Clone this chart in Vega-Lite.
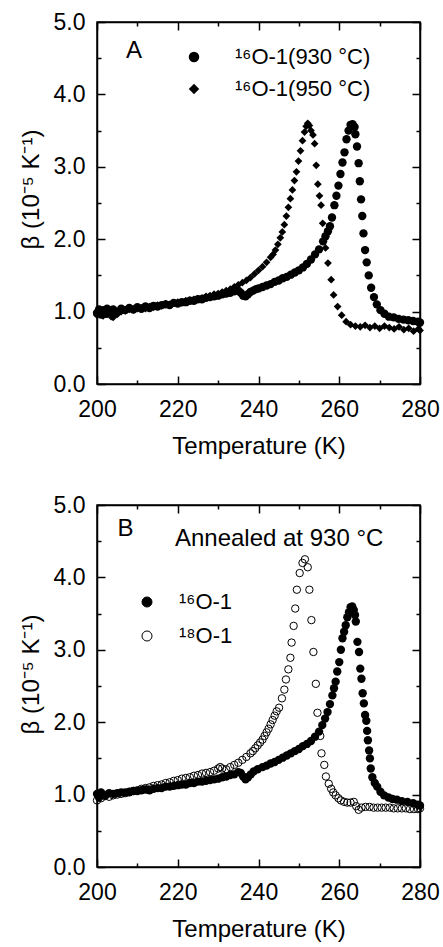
{
  "$schema": "https://vega.github.io/schema/vega-lite/v6.json",
  "background": "white",
  "padding": {"left": 18, "top": 10, "right": 5, "bottom": 5},
  "spacing": 34,
  "resolve": {"legend": {"shape": "independent", "fill": "independent"}},
  "vconcat": [
    {
      "width": 323, "height": 362,
      "layer": [
        {
          "data": {"values": [
      {"T":200,"b":0.98},{"T":200.5,"b":1.03},{"T":201,"b":0.96},{"T":201.5,"b":1.02},{"T":202,"b":0.97},{"T":202.5,"b":1.04},{"T":203,"b":1.01},{"T":203.5,"b":0.98},{"T":204,"b":1.03},{"T":205,"b":1.00},{"T":206,"b":1.04},{"T":207,"b":1.02},{"T":208,"b":1.05},{"T":209,"b":1.03},{"T":210,"b":1.06},{"T":211,"b":1.04},{"T":212,"b":1.07},{"T":213,"b":1.05},{"T":214,"b":1.08},{"T":215,"b":1.07},{"T":216,"b":1.09},{"T":217,"b":1.10},{"T":218,"b":1.09},{"T":219,"b":1.12},{"T":220,"b":1.11},{"T":221,"b":1.13},{"T":222,"b":1.13},{"T":223,"b":1.15},{"T":224,"b":1.15},{"T":225,"b":1.17},{"T":226,"b":1.17},{"T":227,"b":1.19},{"T":228,"b":1.20},{"T":229,"b":1.21},{"T":230,"b":1.22},{"T":231,"b":1.24},{"T":232,"b":1.25},{"T":233,"b":1.26},{"T":234,"b":1.28},{"T":235,"b":1.29},{"T":235.6,"b":1.26},{"T":236.2,"b":1.22},{"T":236.8,"b":1.21},{"T":237.4,"b":1.24},{"T":238,"b":1.27},{"T":238.7,"b":1.29},{"T":239.4,"b":1.31},{"T":240,"b":1.32},{"T":241,"b":1.34},{"T":242,"b":1.36},{"T":243,"b":1.38},{"T":244,"b":1.41},{"T":245,"b":1.43},{"T":246,"b":1.46},{"T":247,"b":1.48},{"T":248,"b":1.51},{"T":249,"b":1.54},{"T":250,"b":1.57},{"T":251,"b":1.61},{"T":252,"b":1.66},{"T":253,"b":1.72},{"T":254,"b":1.79},{"T":255,"b":1.86},{"T":256,"b":1.97},{"T":256.6,"b":2.04},{"T":257.2,"b":2.11},{"T":257.7,"b":2.18},{"T":258.2,"b":2.30},{"T":258.8,"b":2.47},{"T":259.3,"b":2.60},{"T":259.8,"b":2.74},{"T":260.3,"b":2.90},{"T":260.8,"b":3.06},{"T":261.3,"b":3.20},{"T":261.8,"b":3.38},{"T":262.3,"b":3.50},{"T":262.8,"b":3.58},{"T":263.3,"b":3.59},{"T":263.8,"b":3.55},{"T":264.0,"b":3.45},{"T":264.4,"b":3.28},{"T":264.8,"b":3.05},{"T":265.1,"b":2.80},{"T":265.4,"b":2.55},{"T":265.7,"b":2.32},{"T":266.0,"b":2.08},{"T":266.4,"b":1.85},{"T":266.8,"b":1.68},{"T":267.3,"b":1.50},{"T":267.9,"b":1.33},{"T":268.6,"b":1.20},{"T":269.3,"b":1.10},{"T":270.2,"b":1.02},{"T":271.2,"b":0.97},{"T":272.3,"b":0.93},{"T":273.5,"b":0.92},{"T":274.7,"b":0.90},{"T":275.9,"b":0.89},{"T":277.1,"b":0.88},{"T":278.3,"b":0.87},{"T":279.5,"b":0.86},{"T":280,"b":0.85}
          ]},
          "mark": {"type": "point", "filled": true, "size": 70, "color": "black", "opacity": 1},
          "encoding": {
            "x": {"field": "T", "type": "quantitative", "scale": {"domain": [200, 280], "nice": false, "zero": false},
              "axis": {"orient": "bottom", "labelFlush": false, "values": [200,210,220,230,240,250,260,270,280], "labelExpr": "datum.value % 20 === 0 ? datum.label : ''", "tickSize": {"condition": {"test": "datum.value % 20 === 0", "value": -8}, "value": -4}, "labelPadding": 22, "title": "Temperature (K)", "titlePadding": 13}},
            "y": {"field": "b", "type": "quantitative", "scale": {"domain": [0, 5], "nice": false, "zero": false},
              "axis": {"orient": "left", "labelFlush": false, "values": [0,0.5,1,1.5,2,2.5,3,3.5,4,4.5,5], "labelExpr": "datum.value % 1 === 0 ? format(datum.value, '.1f') : ''", "tickSize": {"condition": {"test": "datum.value % 1 === 0", "value": -8}, "value": -4}, "labelPadding": 20, "title": "β (10⁻⁵ K⁻¹)", "titlePadding": 10, "titleY": 167}},
            "shape": {"datum": "¹⁶O-1(930 °C)", "scale": {"domain": ["¹⁶O-1(930 °C)", "¹⁶O-1(950 °C)"], "range": ["circle", "diamond"]},
              "legend": {"orient": "none", "legendX": 86, "legendY": 24, "title": null, "symbolSize": 110, "symbolFillColor": "black", "symbolStrokeColor": "black", "symbolStrokeWidth": 0, "labelFontSize": 22, "labelFont": "Liberation Sans", "labelColor": "black", "labelOffset": 30, "rowPadding": 10, "padding": 0}}
          }
        },
        {
          "data": {"values": [
      {"T":200,"b":0.95},{"T":200.5,"b":0.99},{"T":201,"b":1.01},{"T":201.5,"b":0.94},{"T":202,"b":0.98},{"T":202.5,"b":0.96},{"T":203,"b":0.97},{"T":203.5,"b":0.93},{"T":204,"b":0.92},{"T":205,"b":0.96},{"T":206,"b":1.00},{"T":207,"b":1.01},{"T":208,"b":1.03},{"T":209,"b":1.02},{"T":210,"b":1.04},{"T":211,"b":1.05},{"T":212,"b":1.04},{"T":213,"b":1.07},{"T":214,"b":1.06},{"T":215,"b":1.09},{"T":216,"b":1.08},{"T":217,"b":1.11},{"T":218,"b":1.10},{"T":219,"b":1.12},{"T":220,"b":1.13},{"T":221,"b":1.12},{"T":222,"b":1.15},{"T":223,"b":1.16},{"T":224,"b":1.17},{"T":225,"b":1.18},{"T":226,"b":1.19},{"T":227,"b":1.21},{"T":228,"b":1.22},{"T":229,"b":1.24},{"T":230,"b":1.25},{"T":231,"b":1.27},{"T":232,"b":1.29},{"T":233,"b":1.31},{"T":234,"b":1.34},{"T":235,"b":1.37},{"T":236,"b":1.40},{"T":237,"b":1.43},{"T":238,"b":1.47},{"T":239,"b":1.52},{"T":240,"b":1.57},{"T":241,"b":1.62},{"T":242,"b":1.68},{"T":243,"b":1.75},{"T":243.6,"b":1.79},{"T":244.2,"b":1.85},{"T":244.8,"b":1.93},{"T":245.4,"b":2.02},{"T":245.9,"b":2.10},{"T":246.4,"b":2.20},{"T":246.9,"b":2.32},{"T":247.4,"b":2.44},{"T":247.9,"b":2.56},{"T":248.4,"b":2.68},{"T":248.9,"b":2.81},{"T":249.4,"b":2.93},{"T":249.9,"b":3.08},{"T":250.4,"b":3.22},{"T":250.9,"b":3.36},{"T":251.4,"b":3.48},{"T":251.8,"b":3.56},{"T":252.2,"b":3.60},{"T":252.6,"b":3.57},{"T":253.0,"b":3.50},{"T":253.5,"b":3.44},{"T":253.9,"b":3.32},{"T":254.3,"b":3.02},{"T":254.7,"b":2.76},{"T":255.1,"b":2.60},{"T":255.5,"b":2.47},{"T":255.9,"b":2.22},{"T":256.6,"b":1.88},{"T":257.2,"b":1.67},{"T":258.0,"b":1.44},{"T":258.6,"b":1.23},{"T":259.6,"b":1.07},{"T":260.6,"b":0.95},{"T":261.7,"b":0.86},{"T":262.8,"b":0.82},{"T":264,"b":0.80},{"T":265.2,"b":0.79},{"T":266.4,"b":0.81},{"T":267.6,"b":0.78},{"T":268.8,"b":0.80},{"T":270,"b":0.77},{"T":271.2,"b":0.80},{"T":272.4,"b":0.78},{"T":273.6,"b":0.76},{"T":274.8,"b":0.79},{"T":276,"b":0.75},{"T":277.2,"b":0.77},{"T":278.4,"b":0.73},{"T":279.6,"b":0.76},{"T":280,"b":0.74}
          ]},
          "mark": {"type": "point", "filled": true, "size": 60, "color": "black", "opacity": 1},
          "encoding": {
            "x": {"field": "T", "type": "quantitative", "scale": {"domain": [200, 280], "nice": false, "zero": false},
              "axis": {"orient": "top", "labelFlush": false, "values": [200,210,220,230,240,250,260,270,280], "labels": false, "title": null, "tickSize": {"condition": {"test": "datum.value % 20 === 0", "value": -8}, "value": -4}}},
            "y": {"field": "b", "type": "quantitative", "scale": {"domain": [0, 5], "nice": false, "zero": false},
              "axis": {"orient": "right", "values": [0,0.5,1,1.5,2,2.5,3,3.5,4,4.5,5], "labels": false, "title": null, "tickSize": {"condition": {"test": "datum.value % 1 === 0", "value": -8}, "value": -4}}},
            "shape": {"datum": "¹⁶O-1(950 °C)"}
          }
        },
        {
          "data": {"values": [{"T": 207.2, "b": 4.5, "t": "A"}]},
          "mark": {"type": "text", "fontSize": 24, "align": "left", "baseline": "alphabetic", "color": "black"},
          "encoding": {
            "x": {"field": "T", "type": "quantitative", "axis": null},
            "y": {"field": "b", "type": "quantitative", "axis": null},
            "text": {"field": "t"}
          }
        }
      ],
      "resolve": {"axis": {"x": "independent", "y": "independent"}}
    },
    {
      "width": 323, "height": 362,
      "layer": [
        {
          "data": {"values": [
      {"T":200,"b":1.01},{"T":200.5,"b":0.97},{"T":201,"b":1.03},{"T":202,"b":0.99},{"T":203,"b":1.02},{"T":204,"b":1.01},{"T":205,"b":1.02},{"T":206,"b":1.03},{"T":207,"b":1.03},{"T":208,"b":1.04},{"T":209,"b":1.05},{"T":210,"b":1.05},{"T":211,"b":1.06},{"T":212,"b":1.07},{"T":213,"b":1.06},{"T":214,"b":1.08},{"T":215,"b":1.09},{"T":216,"b":1.09},{"T":217,"b":1.11},{"T":218,"b":1.11},{"T":219,"b":1.12},{"T":220,"b":1.13},{"T":221,"b":1.14},{"T":222,"b":1.14},{"T":223,"b":1.16},{"T":224,"b":1.16},{"T":225,"b":1.18},{"T":226,"b":1.18},{"T":227,"b":1.19},{"T":228,"b":1.20},{"T":229,"b":1.21},{"T":230,"b":1.22},{"T":231,"b":1.24},{"T":232,"b":1.25},{"T":233,"b":1.27},{"T":234,"b":1.28},{"T":235,"b":1.31},{"T":235.6,"b":1.30},{"T":236.2,"b":1.25},{"T":236.8,"b":1.21},{"T":237.4,"b":1.24},{"T":238.1,"b":1.28},{"T":238.8,"b":1.32},{"T":239.8,"b":1.35},{"T":241,"b":1.38},{"T":242,"b":1.40},{"T":243,"b":1.43},{"T":244,"b":1.45},{"T":245,"b":1.48},{"T":246,"b":1.51},{"T":247,"b":1.54},{"T":248,"b":1.57},{"T":249,"b":1.60},{"T":250,"b":1.63},{"T":251,"b":1.67},{"T":252,"b":1.70},{"T":253,"b":1.74},{"T":254,"b":1.80},{"T":255,"b":1.87},{"T":255.8,"b":1.96},{"T":256.5,"b":2.05},{"T":257.1,"b":2.14},{"T":257.7,"b":2.25},{"T":258.3,"b":2.37},{"T":258.7,"b":2.47},{"T":259.1,"b":2.56},{"T":259.5,"b":2.70},{"T":260.0,"b":2.83},{"T":260.4,"b":3.00},{"T":260.8,"b":3.16},{"T":261.2,"b":3.25},{"T":261.6,"b":3.34},{"T":262.0,"b":3.45},{"T":262.4,"b":3.52},{"T":262.8,"b":3.59},{"T":263.2,"b":3.60},{"T":263.6,"b":3.55},{"T":263.9,"b":3.48},{"T":264.1,"b":3.39},{"T":264.5,"b":3.11},{"T":264.9,"b":2.97},{"T":265.2,"b":2.74},{"T":265.5,"b":2.60},{"T":265.8,"b":2.40},{"T":266.1,"b":2.26},{"T":266.4,"b":2.10},{"T":266.7,"b":2.02},{"T":266.9,"b":1.88},{"T":267.1,"b":1.75},{"T":267.4,"b":1.61},{"T":267.6,"b":1.50},{"T":267.8,"b":1.36},{"T":268.2,"b":1.24},{"T":268.8,"b":1.16},{"T":269.4,"b":1.11},{"T":270.2,"b":1.04},{"T":271.1,"b":0.99},{"T":272.2,"b":0.96},{"T":273.2,"b":0.94},{"T":274.3,"b":0.93},{"T":275.5,"b":0.91},{"T":276.9,"b":0.90},{"T":278.3,"b":0.88},{"T":279.5,"b":0.86},{"T":280,"b":0.85}
          ]},
          "mark": {"type": "point", "filled": true, "size": 70, "shape": "circle", "opacity": 1, "strokeWidth": 0},
          "encoding": {
            "x": {"field": "T", "type": "quantitative", "scale": {"domain": [200, 280], "nice": false, "zero": false},
              "axis": {"orient": "bottom", "labelFlush": false, "values": [200,210,220,230,240,250,260,270,280], "labelExpr": "datum.value % 20 === 0 ? datum.label : ''", "tickSize": {"condition": {"test": "datum.value % 20 === 0", "value": -8}, "value": -4}, "labelPadding": 22, "title": "Temperature (K)", "titlePadding": 13}},
            "y": {"field": "b", "type": "quantitative", "scale": {"domain": [0, 5], "nice": false, "zero": false},
              "axis": {"orient": "left", "labelFlush": false, "values": [0,0.5,1,1.5,2,2.5,3,3.5,4,4.5,5], "labelExpr": "datum.value % 1 === 0 ? format(datum.value, '.1f') : ''", "tickSize": {"condition": {"test": "datum.value % 1 === 0", "value": -8}, "value": -4}, "labelPadding": 20, "title": "β (10⁻⁵ K⁻¹)", "titlePadding": 10, "titleY": 169}},
            "fill": {"datum": "¹⁶O-1", "scale": {"domain": ["¹⁶O-1", "¹⁸O-1"], "range": ["black", "transparent"]},
              "legend": {"orient": "none", "legendX": 39, "legendY": 86, "title": null, "symbolSize": 100, "symbolType": "circle", "symbolStrokeColor": "black", "symbolStrokeWidth": 1, "labelFontSize": 22, "labelFont": "Liberation Sans", "labelColor": "black", "labelOffset": 21, "rowPadding": 12, "padding": 0}}
          }
        },
        {
          "data": {"values": [
      {"T":200,"b":0.92},{"T":200.5,"b":0.96},{"T":201,"b":0.95},{"T":202,"b":0.98},{"T":203,"b":0.97},{"T":204,"b":0.99},{"T":205,"b":1.00},{"T":206,"b":1.01},{"T":207,"b":1.02},{"T":208,"b":1.03},{"T":209,"b":1.05},{"T":210,"b":1.06},{"T":211,"b":1.08},{"T":212,"b":1.09},{"T":213,"b":1.10},{"T":214,"b":1.12},{"T":215,"b":1.13},{"T":216,"b":1.14},{"T":217,"b":1.16},{"T":218,"b":1.17},{"T":219,"b":1.19},{"T":220,"b":1.20},{"T":221,"b":1.22},{"T":222,"b":1.23},{"T":223,"b":1.24},{"T":224,"b":1.26},{"T":225,"b":1.27},{"T":226,"b":1.29},{"T":227,"b":1.30},{"T":228,"b":1.31},{"T":229,"b":1.33},{"T":230,"b":1.36},{"T":230.5,"b":1.38},{"T":231,"b":1.36},{"T":232,"b":1.35},{"T":233,"b":1.38},{"T":234,"b":1.41},{"T":235,"b":1.44},{"T":236,"b":1.48},{"T":237,"b":1.52},{"T":238,"b":1.57},{"T":238.6,"b":1.60},{"T":239.2,"b":1.64},{"T":239.8,"b":1.68},{"T":240.4,"b":1.72},{"T":241,"b":1.76},{"T":241.5,"b":1.81},{"T":242,"b":1.86},{"T":242.5,"b":1.91},{"T":243,"b":1.97},{"T":243.5,"b":2.03},{"T":244,"b":2.09},{"T":244.5,"b":2.15},{"T":245.1,"b":2.20},{"T":245.8,"b":2.33},{"T":246.4,"b":2.45},{"T":246.8,"b":2.59},{"T":247.4,"b":2.73},{"T":247.9,"b":2.89},{"T":248.2,"b":3.10},{"T":248.7,"b":3.33},{"T":249.1,"b":3.57},{"T":249.5,"b":3.83},{"T":250.2,"b":4.06},{"T":250.9,"b":4.20},{"T":251.5,"b":4.25},{"T":252.2,"b":4.14},{"T":252.6,"b":3.83},{"T":253.1,"b":3.41},{"T":253.6,"b":2.97},{"T":254.2,"b":2.53},{"T":254.6,"b":2.13},{"T":255.3,"b":1.81},{"T":255.6,"b":1.57},{"T":256.3,"b":1.41},{"T":256.7,"b":1.25},{"T":257.4,"b":1.15},{"T":258.0,"b":1.08},{"T":258.5,"b":1.03},{"T":259.1,"b":0.99},{"T":259.8,"b":0.95},{"T":260.4,"b":0.92},{"T":261.2,"b":0.90},{"T":262.0,"b":0.89},{"T":262.8,"b":0.89},{"T":263.6,"b":0.90},{"T":264.2,"b":0.84},{"T":264.8,"b":0.79},{"T":265.5,"b":0.82},{"T":266.5,"b":0.83},{"T":267.5,"b":0.83},{"T":268.5,"b":0.82},{"T":269.5,"b":0.82},{"T":270.5,"b":0.82},{"T":271.5,"b":0.82},{"T":272.5,"b":0.82},{"T":273.5,"b":0.81},{"T":274.5,"b":0.81},{"T":275.5,"b":0.81},{"T":276.5,"b":0.81},{"T":277.5,"b":0.80},{"T":278.5,"b":0.80},{"T":279.5,"b":0.80},{"T":280,"b":0.81}
          ]},
          "mark": {"type": "point", "filled": true, "size": 55, "shape": "circle", "opacity": 1, "stroke": "black", "strokeWidth": 1},
          "encoding": {
            "x": {"field": "T", "type": "quantitative", "scale": {"domain": [200, 280], "nice": false, "zero": false},
              "axis": {"orient": "top", "labelFlush": false, "values": [200,210,220,230,240,250,260,270,280], "labels": false, "title": null, "tickSize": {"condition": {"test": "datum.value % 20 === 0", "value": -8}, "value": -4}}},
            "y": {"field": "b", "type": "quantitative", "scale": {"domain": [0, 5], "nice": false, "zero": false},
              "axis": {"orient": "right", "values": [0,0.5,1,1.5,2,2.5,3,3.5,4,4.5,5], "labels": false, "title": null, "tickSize": {"condition": {"test": "datum.value % 1 === 0", "value": -8}, "value": -4}}},
            "fill": {"datum": "¹⁸O-1"}
          }
        },
        {
          "data": {"values": [{"T": 205.1, "b": 4.57, "t": "B"}, {"T": 219.3, "b": 4.44, "t": "Annealed at 930 °C"}]},
          "mark": {"type": "text", "fontSize": 24, "align": "left", "baseline": "alphabetic", "color": "black"},
          "encoding": {
            "x": {"field": "T", "type": "quantitative", "axis": null},
            "y": {"field": "b", "type": "quantitative", "axis": null},
            "text": {"field": "t"}
          }
        }
      ],
      "resolve": {"axis": {"x": "independent", "y": "independent"}}
    }
  ],
  "config": {
    "font": "Liberation Sans",
    "view": {"stroke": "black", "strokeWidth": 1.5},
    "axis": {"grid": false, "domainColor": "black", "domainWidth": 1.5, "tickColor": "black", "tickWidth": 1.5, "labelFont": "Liberation Sans", "labelFontSize": 23, "labelColor": "black", "titleFont": "Liberation Sans", "titleFontSize": 24, "titleFontWeight": "normal", "titleColor": "black"}
  }
}
